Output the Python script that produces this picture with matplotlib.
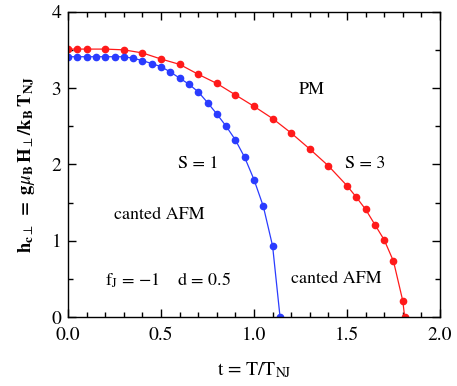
import matplotlib
matplotlib.use("Agg")
import matplotlib.pyplot as plt
from matplotlib.ticker import MultipleLocator, FormatStrFormatter

# phase boundaries h_c(t)
t_s3 = [0.0, 0.05, 0.1, 0.2, 0.3, 0.4, 0.5, 0.6, 0.7, 0.8, 0.9, 1.0, 1.1,
        1.2, 1.3, 1.4, 1.5, 1.55, 1.6, 1.65, 1.7, 1.75, 1.8, 1.81]
h_s3 = [3.51, 3.51, 3.51, 3.51, 3.50, 3.46, 3.38, 3.31, 3.18, 3.06, 2.91,
        2.76, 2.60, 2.41, 2.20, 1.98, 1.72, 1.57, 1.41, 1.21, 1.01, 0.73,
        0.21, 0.0]

t_s1 = [0.0, 0.05, 0.1, 0.15, 0.2, 0.25, 0.3, 0.35, 0.4, 0.45, 0.5, 0.55,
        0.6, 0.65, 0.7, 0.75, 0.8, 0.85, 0.9, 0.95, 1.0, 1.05, 1.1, 1.14]
h_s1 = [3.41, 3.41, 3.41, 3.41, 3.41, 3.41, 3.41, 3.39, 3.36, 3.32, 3.28,
        3.21, 3.13, 3.05, 2.95, 2.81, 2.66, 2.50, 2.32, 2.09, 1.80, 1.45,
        0.93, 0.0]

RED, BLUE = "#ff1a1a", "#2a3cff"

plt.rcParams.update({
    "font.family": "STIXGeneral", "mathtext.fontset": "stix",
    "font.size": 13, "axes.linewidth": 1.0,
    "xtick.direction": "in", "ytick.direction": "in",
    "xtick.top": True, "ytick.right": True,
})

fig = plt.figure(figsize=(4.57, 3.86), dpi=100)
ax = fig.add_axes([0.1488, 0.1788, 0.8140, 0.7909])

ax.plot(t_s3, h_s3, color=RED, lw=0.9, marker="o", ms=4.5, mec=RED, mfc=RED)
ax.plot(t_s1, h_s1, color=BLUE, lw=0.9, marker="o", ms=4.5, mec=BLUE, mfc=BLUE)

ax.set_xlim(0, 2.0)
ax.set_ylim(0, 4)
ax.xaxis.set_major_locator(MultipleLocator(0.5))
ax.xaxis.set_minor_locator(MultipleLocator(0.1))
ax.yaxis.set_major_locator(MultipleLocator(1))
ax.yaxis.set_minor_locator(MultipleLocator(0.5))
ax.xaxis.set_major_formatter(FormatStrFormatter("%.1f"))
ax.tick_params(which="major", length=6, width=1.0, labelsize=14)
ax.tick_params(axis="x", which="major", pad=7)
ax.tick_params(axis="y", which="major", pad=5)
ax.tick_params(which="minor", length=3.5, width=1.0)

ax.set_xlabel(r"t = T/T$_{\rm NJ}$", fontsize=14, labelpad=12)
ax.set_ylabel(r"$\mathbf{h}_{\mathbf{c}\perp}\mathbf{\ =\ g}\mu_{\mathbf{B}}"
              r"\,\mathbf{H}_{\perp}\mathbf{/k_{B}\,T_{NJ}}$",
              fontsize=13.5, labelpad=10)

ax.text(1.31, 2.97, "PM", ha="center", va="center")
ax.text(1.60, 2.0, "S = 3", ha="center", va="center")
ax.text(0.70, 2.0, "S = 1", ha="center", va="center")
ax.text(0.49, 1.34, "canted AFM", ha="center", va="center")
ax.text(1.44, 0.50, "canted AFM", ha="center", va="center")
ax.text(0.20, 0.48, r"f$_{\rm J}$ = $-$1    d = 0.5", ha="left", va="center")

fig.savefig("out.png", dpi=100)
